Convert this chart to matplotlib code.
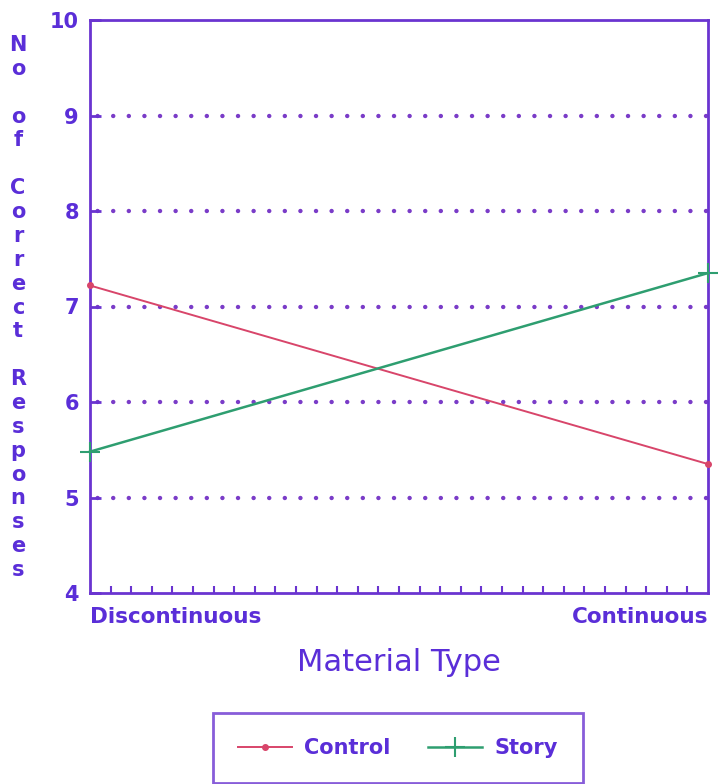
import matplotlib.pyplot as plt
import numpy as np

# data
categories = ['Discontinuous', 'Continuous']
control = [7.22, 5.35]
story = [5.48, 7.35]
y_ticks = [4, 5, 6, 7, 8, 9, 10]
ylabel = 'No of Correct Responses'

purple = '#6a34d0'
dotc = '#7a3cc8'
textc = '#5a2ed8'
red = '#d8456a'
green = '#2e9e70'

plt.rcParams['font.family'] = ['DejaVu Sans']

fig = plt.figure(figsize=(7.21, 7.84), dpi=100)
ax = fig.add_axes([90/721, 1 - 593/784, 618/721, 573/784])

x = np.arange(len(categories))

# dotted grid
for yv in y_ticks[1:-1]:
    ax.axhline(yv, color=dotc, lw=3.2, ls=(1.8, (0.01, 3.5)),
               dash_capstyle='round', zorder=1)

ax.plot(x, control, color=red, lw=1.4, marker='o', ms=4,
        label='Control', clip_on=False, zorder=3)
ax.plot(x, story, color=green, lw=1.8, marker='+', ms=14, mew=1.5,
        label='Story', clip_on=False, zorder=3)

ax.set_xlim(0, 1)
ax.set_ylim(4, 10)
ax.set_yticks(y_ticks)
ax.set_xticks(x, categories)
ax.set_xticks(np.linspace(0, 1, 31), minor=True)

for s in ax.spines.values():
    s.set_color(purple)
    s.set_linewidth(2)

ax.tick_params(axis='y', direction='in', length=8, width=2, color=purple,
               labelcolor=textc, labelsize=15, pad=8)
ax.tick_params(axis='x', which='major', length=0, labelcolor=textc,
               labelsize=15.5, pad=10)
ax.tick_params(axis='x', which='minor', direction='in', length=5,
               width=1.5, color=purple)
for lab in ax.get_yticklabels() + ax.get_xticklabels():
    lab.set_fontweight('bold')
xl = ax.get_xticklabels()
xl[0].set_ha('left')
xl[1].set_ha('right')

ax.set_xlabel('Material Type', fontsize=22, color=textc, labelpad=15)

# stacked vertical y label
n = len(ylabel)
ys = np.linspace(45, 570, n)
for ch, yp in zip(ylabel, ys):
    if ch != ' ':
        fig.text(18/721, 1 - yp/784, ch, ha='center', va='center',
                 fontsize=15, fontweight='bold', color=textc)

leg = fig.legend(loc='center', bbox_to_anchor=(398/721, 1 - 748/784),
                 ncol=2, fancybox=False, edgecolor=purple, handlelength=2.6,
                 handletextpad=0.6, columnspacing=1.8, borderpad=1.2,
                 labelcolor=textc, prop={'size': 15, 'weight': 'bold'})
leg.get_frame().set_linewidth(2)

fig.savefig('out.png', dpi=100)
